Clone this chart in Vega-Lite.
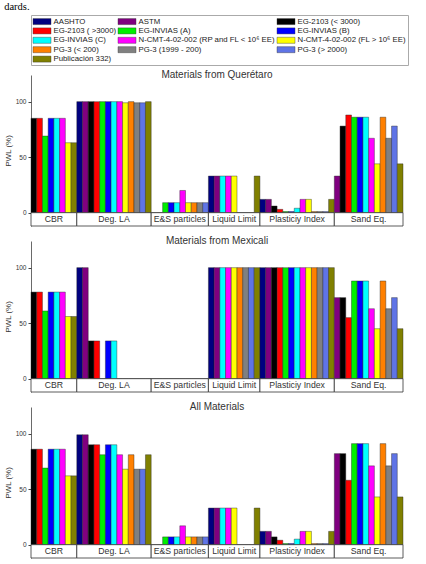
{
  "$schema": "https://vega.github.io/schema/vega-lite/v6.json",
  "padding": {"left": 4, "top": 2, "right": 2, "bottom": 2},
  "title": {"text": "dards.", "anchor": "start", "frame": "bounds", "font": "Liberation Serif", "fontSize": 10.5, "fontWeight": "normal", "color": "#000", "offset": 2},
  "config": {
    "view": {"stroke": null},
    "font": "Liberation Sans",
    "axis": {"domainColor": "#444", "domainWidth": 0.8, "tickColor": "#444", "tickSize": 3, "labelFontSize": 6.5, "labelColor": "#333", "titleFontSize": 8, "titleFontWeight": "normal", "titleColor": "#333", "labelPadding": 2, "titlePadding": 3, "grid": false},
    "title": {"fontSize": 10, "fontWeight": "normal", "color": "#333", "font": "Liberation Sans"},
    "legend": {"orient": "top", "columns": 3, "symbolType": "M-1,-0.67H3V0.67H-1Z", "symbolSize": 81, "symbolStrokeColor": "#333", "symbolStrokeWidth": 0.4, "labelFontSize": 7.8, "labelColor": "#222", "labelFont": "Liberation Sans", "rowPadding": 0.4, "columnPadding": 0, "labelOffset": 11, "strokeColor": "#aaa", "padding": 1.5, "offset": 5, "labelLimit": 250}
  },
  "datasets": {
    "bars": [
      {"k": "CBR:E1", "std": "EG-2103 (< 3000)", "Q": 85, "M": 78, "A": 86},
      {"k": "CBR:E2", "std": "EG-2103 ( >3000)", "Q": 85, "M": 78, "A": 86},
      {"k": "CBR:IA", "std": "EG-INVIAS (A)", "Q": 69, "M": 61, "A": 69},
      {"k": "CBR:IB", "std": "EG-INVIAS (B)", "Q": 85, "M": 78, "A": 86},
      {"k": "CBR:IC", "std": "EG-INVIAS (C)", "Q": 85, "M": 78, "A": 86},
      {"k": "CBR:NR", "std": "N-CMT-4-02-002 (RP and FL < 10\u2076 EE)", "Q": 85, "M": 78, "A": 86},
      {"k": "CBR:NF", "std": "N-CMT-4-02-002 (FL > 10\u2076 EE)", "Q": 63, "M": 56, "A": 62},
      {"k": "CBR:PB", "std": "Publicación 332)", "Q": 63, "M": 56, "A": 62},
      {"k": "LA:AA", "std": "AASHTO", "Q": 100, "M": 100, "A": 99},
      {"k": "LA:AS", "std": "ASTM", "Q": 100, "M": 100, "A": 99},
      {"k": "LA:E1", "std": "EG-2103 (< 3000)", "Q": 100, "M": 34, "A": 90},
      {"k": "LA:E2", "std": "EG-2103 ( >3000)", "Q": 100, "M": 34, "A": 90},
      {"k": "LA:IA", "std": "EG-INVIAS (A)", "Q": 100, "M": 0, "A": 81},
      {"k": "LA:IB", "std": "EG-INVIAS (B)", "Q": 100, "M": 34, "A": 90},
      {"k": "LA:IC", "std": "EG-INVIAS (C)", "Q": 100, "M": 34, "A": 90},
      {"k": "LA:NR", "std": "N-CMT-4-02-002 (RP and FL < 10\u2076 EE)", "Q": 100, "M": 0, "A": 81},
      {"k": "LA:NF", "std": "N-CMT-4-02-002 (FL > 10\u2076 EE)", "Q": 99, "M": 0, "A": 68},
      {"k": "LA:P1", "std": "PG-3 (< 200)", "Q": 100, "M": 0, "A": 81},
      {"k": "LA:P2", "std": "PG-3 (1999 - 200)", "Q": 99, "M": 0, "A": 68},
      {"k": "LA:P3", "std": "PG-3 (> 2000)", "Q": 99, "M": 0, "A": 68},
      {"k": "LA:PB", "std": "Publicación 332)", "Q": 100, "M": 0, "A": 81},
      {"k": "ES:E1", "std": "EG-2103 (< 3000)", "Q": 0, "M": 0, "A": 0},
      {"k": "ES:E2", "std": "EG-2103 ( >3000)", "Q": 0, "M": 0, "A": 0},
      {"k": "ES:IA", "std": "EG-INVIAS (A)", "Q": 9, "M": 0, "A": 7},
      {"k": "ES:IB", "std": "EG-INVIAS (B)", "Q": 9, "M": 0, "A": 7},
      {"k": "ES:IC", "std": "EG-INVIAS (C)", "Q": 9, "M": 0, "A": 7},
      {"k": "ES:NR", "std": "N-CMT-4-02-002 (RP and FL < 10\u2076 EE)", "Q": 20, "M": 0, "A": 17},
      {"k": "ES:NF", "std": "N-CMT-4-02-002 (FL > 10\u2076 EE)", "Q": 9, "M": 0, "A": 7},
      {"k": "ES:P1", "std": "PG-3 (< 200)", "Q": 9, "M": 0, "A": 7},
      {"k": "ES:P2", "std": "PG-3 (1999 - 200)", "Q": 9, "M": 0, "A": 7},
      {"k": "ES:P3", "std": "PG-3 (> 2000)", "Q": 9, "M": 0, "A": 7},
      {"k": "LL:AA", "std": "AASHTO", "Q": 33, "M": 100, "A": 33},
      {"k": "LL:AS", "std": "ASTM", "Q": 33, "M": 100, "A": 33},
      {"k": "LL:IC", "std": "EG-INVIAS (C)", "Q": 33, "M": 100, "A": 33},
      {"k": "LL:NR", "std": "N-CMT-4-02-002 (RP and FL < 10\u2076 EE)", "Q": 33, "M": 100, "A": 33},
      {"k": "LL:NF", "std": "N-CMT-4-02-002 (FL > 10\u2076 EE)", "Q": 33, "M": 100, "A": 33},
      {"k": "LL:P1", "std": "PG-3 (< 200)", "Q": 0, "M": 100, "A": 0},
      {"k": "LL:P2", "std": "PG-3 (1999 - 200)", "Q": 0, "M": 100, "A": 0},
      {"k": "LL:P3", "std": "PG-3 (> 2000)", "Q": 0, "M": 100, "A": 0},
      {"k": "LL:PB", "std": "Publicación 332)", "Q": 33, "M": 100, "A": 33},
      {"k": "PI:AA", "std": "AASHTO", "Q": 12, "M": 100, "A": 12},
      {"k": "PI:AS", "std": "ASTM", "Q": 12, "M": 100, "A": 12},
      {"k": "PI:E1", "std": "EG-2103 (< 3000)", "Q": 6, "M": 100, "A": 7},
      {"k": "PI:E2", "std": "EG-2103 ( >3000)", "Q": 3, "M": 100, "A": 4},
      {"k": "PI:IA", "std": "EG-INVIAS (A)", "Q": 1, "M": 100, "A": 1},
      {"k": "PI:IB", "std": "EG-INVIAS (B)", "Q": 1, "M": 100, "A": 1},
      {"k": "PI:IC", "std": "EG-INVIAS (C)", "Q": 4, "M": 100, "A": 5},
      {"k": "PI:NR", "std": "N-CMT-4-02-002 (RP and FL < 10\u2076 EE)", "Q": 12, "M": 100, "A": 12},
      {"k": "PI:NF", "std": "N-CMT-4-02-002 (FL > 10\u2076 EE)", "Q": 12, "M": 100, "A": 12},
      {"k": "PI:P1", "std": "PG-3 (< 200)", "Q": 1, "M": 100, "A": 1},
      {"k": "PI:P2", "std": "PG-3 (1999 - 200)", "Q": 1, "M": 100, "A": 1},
      {"k": "PI:P3", "std": "PG-3 (> 2000)", "Q": 1, "M": 100, "A": 1},
      {"k": "PI:PB", "std": "Publicación 332)", "Q": 12, "M": 100, "A": 12},
      {"k": "SE:AS", "std": "ASTM", "Q": 33, "M": 73, "A": 82},
      {"k": "SE:E1", "std": "EG-2103 (< 3000)", "Q": 78, "M": 73, "A": 82},
      {"k": "SE:E2", "std": "EG-2103 ( >3000)", "Q": 88, "M": 55, "A": 58},
      {"k": "SE:IA", "std": "EG-INVIAS (A)", "Q": 86, "M": 88, "A": 91},
      {"k": "SE:IB", "std": "EG-INVIAS (B)", "Q": 86, "M": 88, "A": 91},
      {"k": "SE:IC", "std": "EG-INVIAS (C)", "Q": 86, "M": 88, "A": 91},
      {"k": "SE:NR", "std": "N-CMT-4-02-002 (RP and FL < 10\u2076 EE)", "Q": 67, "M": 63, "A": 71},
      {"k": "SE:NF", "std": "N-CMT-4-02-002 (FL > 10\u2076 EE)", "Q": 44, "M": 45, "A": 43},
      {"k": "SE:P1", "std": "PG-3 (< 200)", "Q": 86, "M": 88, "A": 91},
      {"k": "SE:P2", "std": "PG-3 (1999 - 200)", "Q": 67, "M": 63, "A": 71},
      {"k": "SE:P3", "std": "PG-3 (> 2000)", "Q": 78, "M": 73, "A": 82},
      {"k": "SE:PB", "std": "Publicación 332)", "Q": 44, "M": 45, "A": 43}
    ],
    "cats": [
      {"cat": "CBR", "first": "CBR:E1", "last": "CBR:PB", "mid": "CBR:IC", "even": true},
      {"cat": "Deg. LA", "first": "LA:AA", "last": "LA:PB", "mid": "LA:IC", "even": false},
      {"cat": "E&S particles", "first": "ES:E1", "last": "ES:P3", "mid": "ES:NR", "even": true},
      {"cat": "Liquid Limit", "first": "LL:AA", "last": "LL:PB", "mid": "LL:NF", "even": false},
      {"cat": "Plasticiy Index", "first": "PI:AA", "last": "PI:PB", "mid": "PI:IC", "even": false},
      {"cat": "Sand Eq.", "first": "SE:AS", "last": "SE:PB", "mid": "SE:NR", "even": true}
    ]
  },
  "spacing": 9,
  "resolve": {"scale": {"y": "shared", "x": "shared"}},
  "vconcat": [
    {
      "width": 372, "height": 151,
      "title": {"text": "Materials from Querétaro", "offset": -5},
      "layer": [
        {"data": {"name": "bars"}, "mark": {"type": "bar", "stroke": "#222", "strokeWidth": 0.4},
         "encoding": {
           "x": {"field": "k", "type": "nominal", "sort": null, "axis": null, "scale": {"paddingInner": 0, "paddingOuter": 0, "domain": ["CBR:E1","CBR:E2","CBR:IA","CBR:IB","CBR:IC","CBR:NR","CBR:NF","CBR:PB","LA:AA","LA:AS","LA:E1","LA:E2","LA:IA","LA:IB","LA:IC","LA:NR","LA:NF","LA:P1","LA:P2","LA:P3","LA:PB","ES:E1","ES:E2","ES:IA","ES:IB","ES:IC","ES:NR","ES:NF","ES:P1","ES:P2","ES:P3","LL:AA","LL:AS","LL:IC","LL:NR","LL:NF","LL:P1","LL:P2","LL:P3","LL:PB","PI:AA","PI:AS","PI:E1","PI:E2","PI:IA","PI:IB","PI:IC","PI:NR","PI:NF","PI:P1","PI:P2","PI:P3","PI:PB","SE:AS","SE:E1","SE:E2","SE:IA","SE:IB","SE:IC","SE:NR","SE:NF","SE:P1","SE:P2","SE:P3","SE:PB"]}},
           "y": {"field": "Q", "type": "quantitative", "scale": {"domain": [-12, 124], "nice": false, "zero": false}, "axis": {"values": [0, 50, 100], "title": "PWL (%)"}},
           "y2": {"datum": 0},
           "color": {"field": "std", "type": "nominal", "title": null, "scale": {"domain": ["AASHTO", "ASTM", "EG-2103 (< 3000)", "EG-2103 ( >3000)", "EG-INVIAS (A)", "EG-INVIAS (B)", "EG-INVIAS (C)", "N-CMT-4-02-002 (RP and FL < 10\u2076 EE)", "N-CMT-4-02-002 (FL > 10\u2076 EE)", "PG-3 (< 200)", "PG-3 (1999 - 200)", "PG-3 (> 2000)", "Publicación 332)"], "range": ["#000080", "#800080", "#000000", "#ff0000", "#00ee00", "#0000ff", "#00ffff", "#ff00ff", "#ffff00", "#ff8000", "#808080", "#5f74e6", "#808000"]}}
         }},
        {"data": {"name": "cats"}, "mark": {"type": "rect", "fill": "white", "stroke": "#333", "strokeWidth": 0.8},
         "encoding": {"x": {"field": "first", "type": "nominal", "sort": null, "bandPosition": 0}, "x2": {"field": "last", "bandPosition": 1}, "y": {"datum": -12, "type": "quantitative"}, "y2": {"datum": 0}}},
        {"data": {"name": "cats"}, "transform": [{"filter": "datum.even"}], "mark": {"type": "text", "fontSize": 8.7, "color": "#333", "baseline": "middle", "align": "center"},
         "encoding": {"x": {"field": "mid", "type": "nominal", "sort": null, "bandPosition": 0}, "y": {"datum": -6, "type": "quantitative"}, "text": {"field": "cat"}}},
        {"data": {"name": "cats"}, "transform": [{"filter": "!datum.even"}], "mark": {"type": "text", "fontSize": 8.7, "color": "#333", "baseline": "middle", "align": "center"},
         "encoding": {"x": {"field": "mid", "type": "nominal", "sort": null, "bandPosition": 0.5}, "y": {"datum": -6, "type": "quantitative"}, "text": {"field": "cat"}}}
      ]
    },
    {
      "width": 372, "height": 151,
      "title": {"text": "Materials from Mexicali", "offset": -5},
      "layer": [
        {"data": {"name": "bars"}, "mark": {"type": "bar", "stroke": "#222", "strokeWidth": 0.4},
         "encoding": {
           "x": {"field": "k", "type": "nominal", "sort": null, "axis": null},
           "y": {"field": "M", "type": "quantitative", "axis": {"values": [0, 50, 100], "title": "PWL (%)"}},
           "y2": {"datum": 0},
           "color": {"field": "std", "type": "nominal", "title": null}
         }},
        {"data": {"name": "cats"}, "mark": {"type": "rect", "fill": "white", "stroke": "#333", "strokeWidth": 0.8},
         "encoding": {"x": {"field": "first", "type": "nominal", "sort": null, "bandPosition": 0}, "x2": {"field": "last", "bandPosition": 1}, "y": {"datum": -12, "type": "quantitative"}, "y2": {"datum": 0}}},
        {"data": {"name": "cats"}, "transform": [{"filter": "datum.even"}], "mark": {"type": "text", "fontSize": 8.7, "color": "#333", "baseline": "middle", "align": "center"},
         "encoding": {"x": {"field": "mid", "type": "nominal", "sort": null, "bandPosition": 0}, "y": {"datum": -6, "type": "quantitative"}, "text": {"field": "cat"}}},
        {"data": {"name": "cats"}, "transform": [{"filter": "!datum.even"}], "mark": {"type": "text", "fontSize": 8.7, "color": "#333", "baseline": "middle", "align": "center"},
         "encoding": {"x": {"field": "mid", "type": "nominal", "sort": null, "bandPosition": 0.5}, "y": {"datum": -6, "type": "quantitative"}, "text": {"field": "cat"}}}
      ]
    },
    {
      "width": 372, "height": 151,
      "title": {"text": "All Materials", "offset": -5},
      "layer": [
        {"data": {"name": "bars"}, "mark": {"type": "bar", "stroke": "#222", "strokeWidth": 0.4},
         "encoding": {
           "x": {"field": "k", "type": "nominal", "sort": null, "axis": null},
           "y": {"field": "A", "type": "quantitative", "axis": {"values": [0, 50, 100], "title": "PWL (%)"}},
           "y2": {"datum": 0},
           "color": {"field": "std", "type": "nominal", "title": null}
         }},
        {"data": {"name": "cats"}, "mark": {"type": "rect", "fill": "white", "stroke": "#333", "strokeWidth": 0.8},
         "encoding": {"x": {"field": "first", "type": "nominal", "sort": null, "bandPosition": 0}, "x2": {"field": "last", "bandPosition": 1}, "y": {"datum": -12, "type": "quantitative"}, "y2": {"datum": 0}}},
        {"data": {"name": "cats"}, "transform": [{"filter": "datum.even"}], "mark": {"type": "text", "fontSize": 8.7, "color": "#333", "baseline": "middle", "align": "center"},
         "encoding": {"x": {"field": "mid", "type": "nominal", "sort": null, "bandPosition": 0}, "y": {"datum": -6, "type": "quantitative"}, "text": {"field": "cat"}}},
        {"data": {"name": "cats"}, "transform": [{"filter": "!datum.even"}], "mark": {"type": "text", "fontSize": 8.7, "color": "#333", "baseline": "middle", "align": "center"},
         "encoding": {"x": {"field": "mid", "type": "nominal", "sort": null, "bandPosition": 0.5}, "y": {"datum": -6, "type": "quantitative"}, "text": {"field": "cat"}}}
      ]
    }
  ]
}
